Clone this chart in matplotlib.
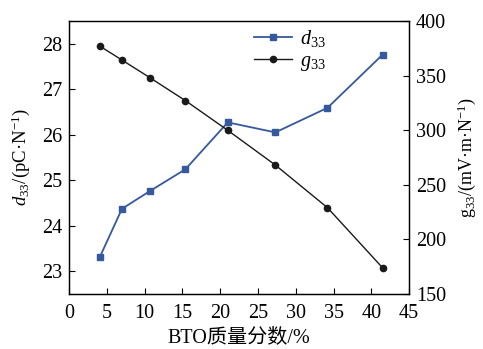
import matplotlib
matplotlib.use('Agg')
from matplotlib import pyplot as plt

# BTO 质量分数 / %
bto = [4.1, 7.0, 10.7, 15.4, 21.0, 27.3, 34.2, 41.5]
d33 = [23.32, 24.37, 24.76, 25.24, 26.27, 26.05, 26.59, 27.76]
g33 = [376.8, 364.2, 348.0, 327.0, 299.8, 268.0, 228.9, 173.8]

xticks = [0, 5, 10, 15, 20, 25, 30, 35, 40, 45]
left_ticks = [23, 24, 25, 26, 27, 28]
right_ticks = [150, 200, 250, 300, 350, 400]

plt.rcParams['font.family'] = ['Liberation Serif', 'Noto Sans CJK SC']
plt.rcParams['mathtext.fontset'] = 'custom'
plt.rcParams['mathtext.rm'] = 'Liberation Serif'
plt.rcParams['mathtext.it'] = 'Liberation Serif:italic'
plt.rcParams['axes.unicode_minus'] = False

fig = plt.figure(figsize=(4.83, 3.49), dpi=100)
ax = fig.add_axes([0.143, 0.158, 0.704, 0.782])
ax2 = ax.twinx()

blue = '#36589c'
l1, = ax.plot(bto, d33, '-s', color=blue, lw=1.3, ms=4.5, label='$d_{33}$')
l2, = ax2.plot(bto, g33, '-o', color='#1a1a1a', lw=1.0, ms=4.5, label='$g_{33}$')

ax.set_xlim(0, 45)
ax.set_ylim(22.5, 28.5)
ax2.set_ylim(150, 400)
ax.set_xticks(xticks)
ax.set_yticks(left_ticks)
ax2.set_yticks(right_ticks)

fs = 14.5
for a in (ax, ax2):
    a.tick_params(direction='in', length=4, width=0.8, labelsize=fs, pad=5)
    for s in a.spines.values():
        s.set_linewidth(0.9)
ax.tick_params(axis='x', pad=7)

ax.set_xlabel('BTO质量分数/%', fontsize=fs, labelpad=4)
ax.set_ylabel('$d_{33}$/(pC·N$^{-1}$)', fontsize=13.5, labelpad=7)
ax2.set_ylabel('g$_{33}$/(mV·m·N$^{-1}$)', fontsize=13, rotation=90, labelpad=7)

ax.legend([l1, l2], ['$d_{33}$', '$g_{33}$'], loc='upper left', bbox_to_anchor=(0.49, 1.04),
          frameon=False, fontsize=fs, handlelength=1.9, handletextpad=0.4, labelspacing=0.15)

plt.savefig('out.png', dpi=100)
